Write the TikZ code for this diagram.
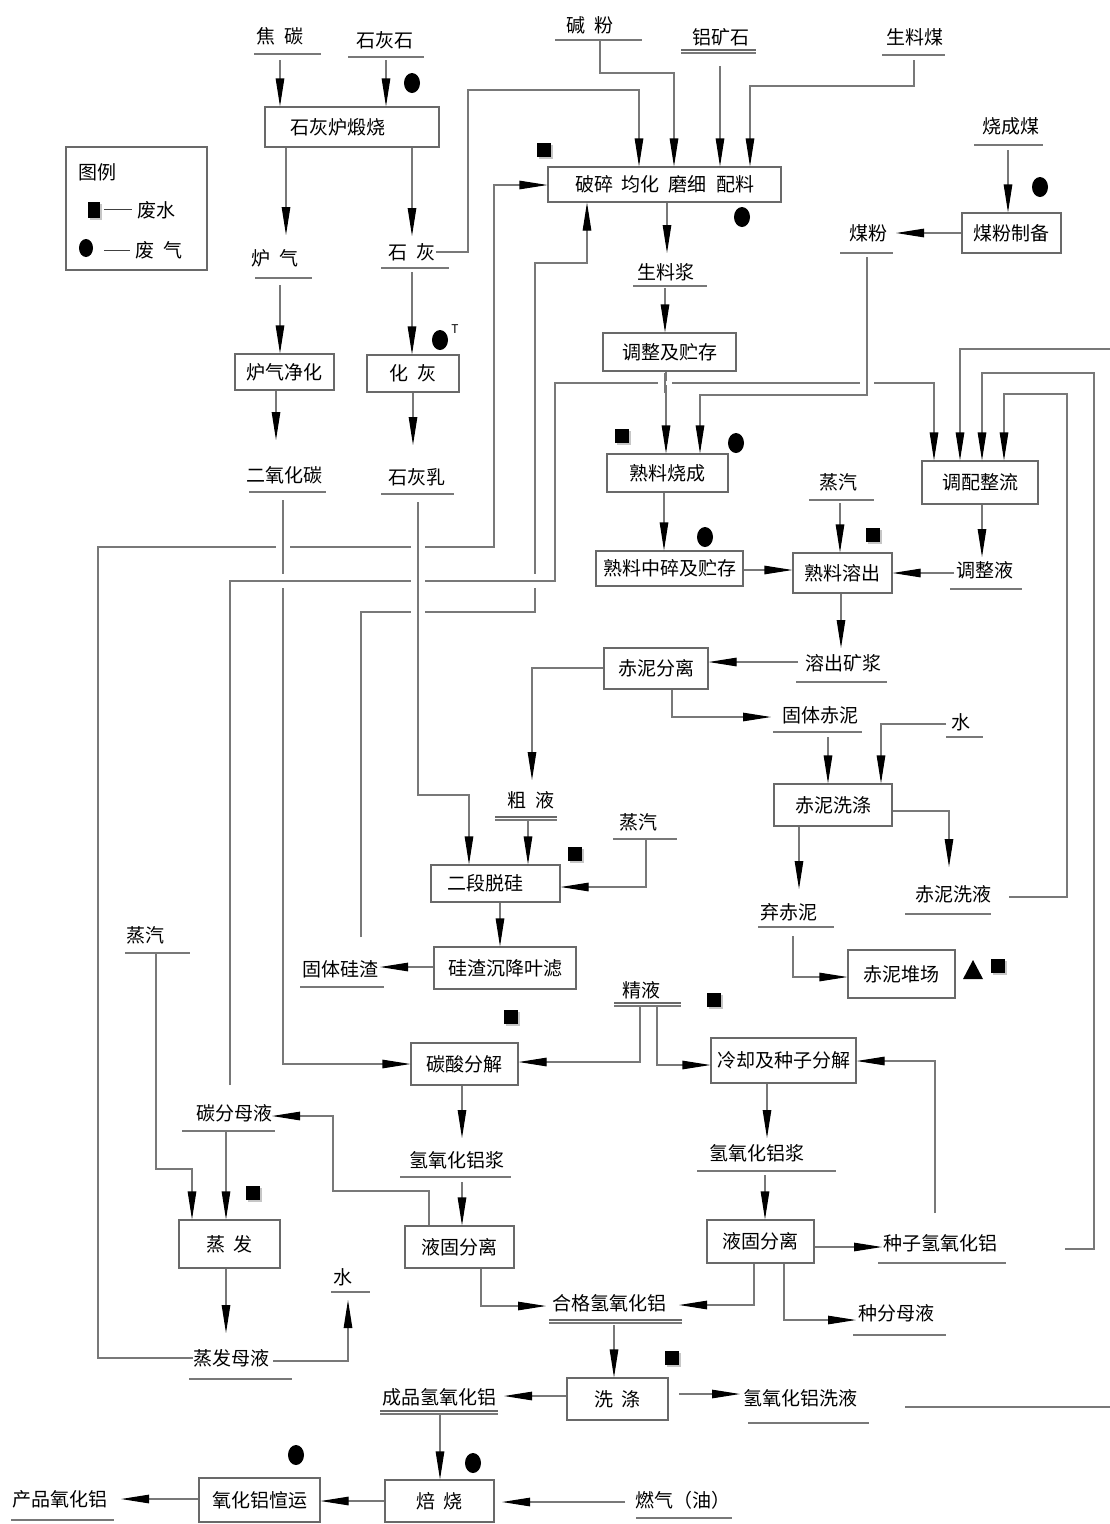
\documentclass[tikz,border=0pt]{standalone}
\usepackage{fontspec}
\setmainfont{Noto Sans CJK SC}
\usetikzlibrary{arrows.meta}

\definecolor{lgray}{RGB}{120,120,120}
\definecolor{bgray}{RGB}{105,105,105}
\newcommand\zh{\fontsize{19pt}{19pt}\selectfont}
\newcommand\gsp{\hspace{9pt}}

\tikzset{
  ln/.style={draw=lgray, line width=1.1pt},
  arr/.style={ln, -{Triangle[length=28pt,width=8.5pt,color=black]}},
  pbox/.style={draw=bgray, line width=1.1pt, inner sep=0pt, font=\zh},
  lab/.style={inner sep=0pt, font=\zh},
  ulbar/.style={draw=lgray, line width=1.1pt},
}

% underline under a material label
\newcommand\ulab[3]{\draw[ulbar] (#1,#3) -- (#2,#3);}
% double underline under a main product label
\newcommand\dulab[3]{\draw[draw=bgray, line width=1.5pt] (#1,#3) -- (#2,#3);
  \draw[ulbar] (#1,#3+3) -- (#2,#3+3);}
% waste-water marker
\newcommand\wastesq[2]{\begin{scope}[shift={(#1,#2)}]
  \fill[gray!45] (-5,-5) rectangle (9,9);
  \fill[black] (-7,-7) rectangle (7,7);\end{scope}}
% waste-gas marker
\newcommand\gasdot[2]{\fill[black] (#1,#2) ellipse [x radius=8pt, y radius=10pt];}
% crossing where the horizontal line is interrupted
\newcommand\hbrk[2]{\draw[white, line width=4pt] (#1-7,#2) -- (#1+7,#2);
  \draw[ln] (#1,#2-10) -- (#1,#2+10);}
% crossing where the vertical line is interrupted
\newcommand\vbrk[2]{\draw[white, line width=4pt] (#1,#2-7) -- (#1,#2+7);
  \draw[ln] (#1-10,#2) -- (#1+10,#2);}

\begin{document}
\begin{tikzpicture}[x=1pt,y=-1pt]
\useasboundingbox (0,0) rectangle (1110,1524);
\fill[white] (0,0) rectangle (1110,1524);

% ---------- legend ----------
\node[pbox, minimum width=141pt, minimum height=123pt] (legend) at (136.5,208.5) {};
\node[lab] (lgt) at (97,172) {图例};
\fill[gray!45] (90,204) rectangle (102,220);
\fill[black] (88,202) rectangle (100,218);
\draw[black!75, line width=1pt] (104,209) -- (132,209);
\node[lab] (lgw) at (156,210) {废水};
\fill[black] (86,248) ellipse [x radius=7pt, y radius=9pt];
\draw[black!75, line width=1pt] (104,250) -- (130,250);
\node[lab] (lgg) at (159,250) {废\gsp 气};

% ---------- material labels ----------
\node[lab] (jt) at (280,36) {焦\gsp 碳}; \ulab{254}{321}{54}
\node[lab] (shs) at (385,40) {石灰石}; \ulab{348}{424}{57}
\node[lab] (jf) at (590,25) {碱\gsp 粉}; \ulab{555}{642}{40}
\node[lab] (lks) at (721,37) {铝矿石}; \dulab{681}{756}{50}
\node[lab] (slm) at (915,37) {生料煤}; \ulab{882}{945}{55}
\node[lab] (scm) at (1011,126) {烧成煤}; \ulab{974}{1043}{145}
\node[lab] (mf) at (868,233) {煤粉}; \ulab{840}{893}{253}
\node[lab] (lq) at (275,258) {炉\gsp 气}; \ulab{255}{312}{278}
\node[lab] (sh) at (412,252) {石\gsp 灰}; \ulab{381}{449}{268}
\node[lab] (slj) at (666,272) {生料浆}; \ulab{633}{707}{286}
\node[lab] (co2) at (284,475) {二氧化碳}; \ulab{249}{326}{492}
\node[lab] (shr) at (417,477) {石灰乳}; \ulab{381}{454}{494}
\node[lab] (zq1) at (838,482) {蒸汽}; \ulab{809}{874}{500}
\node[lab] (tzy) at (985,570) {调整液}; \ulab{950}{1022}{589}
\node[lab] (rckj) at (843,663) {溶出矿浆}; \ulab{796}{887}{682}
\node[lab] (gtcn) at (820,715) {固体赤泥}; \ulab{773}{862}{732}
\node[lab] (w1) at (961,722) {水}; \ulab{946}{983}{737}
\node[lab] (cy) at (531,800) {粗\gsp 液}; \dulab{495}{557}{817}
\node[lab] (zq2) at (638,822) {蒸汽}; \ulab{613}{677}{839}
\node[lab] (cnxy) at (953,894) {赤泥洗液}; \ulab{905}{991}{914}
\node[lab] (qcn) at (789,912) {弃赤泥}; \ulab{758}{834}{927}
\node[lab] (zq3) at (145,935) {蒸汽}; \ulab{125}{190}{953}
\node[lab] (gtgz) at (340,969) {固体硅渣}; \ulab{300}{384}{987}
\node[lab] (jy) at (641,990) {精液}; \dulab{614}{681}{1003}
\node[lab] (tfmy) at (234,1113) {碳分母液}; \ulab{182}{275}{1131}
\node[lab] (qyj1) at (457,1160) {氢氧化铝浆}; \ulab{400}{511}{1177}
\node[lab] (qyj2) at (757,1153) {氢氧化铝浆}; \ulab{697}{836}{1171}
\node[lab] (zzq) at (940,1243) {种子氢氧化铝}; \ulab{878}{1006}{1263}
\node[lab] (w2) at (343,1277) {水}; \ulab{331}{370}{1292}
\node[lab] (hg) at (609,1303) {合格氢氧化铝}; \dulab{549}{682}{1320}
\node[lab] (zfml) at (896,1313) {种分母液}; \ulab{853}{946}{1335}
\node[lab] (zfmy) at (231,1358) {蒸发母液}; \ulab{189}{292}{1379}
\node[lab] (cp) at (439,1397) {成品氢氧化铝}; \dulab{380}{498}{1411}
\node[lab] (xy) at (800,1398) {氢氧化铝洗液}; \ulab{748}{869}{1423}
\node[lab] (cpyh) at (60,1499) {产品氧化铝}; \ulab{11}{114}{1520}
\node[lab] (rq) at (683,1500) {燃气（油）}; \ulab{636}{732}{1518}

% ---------- process boxes ----------
\node[pbox, minimum width=174pt, minimum height=40pt] (slhs) at (352,127) {\hspace*{-28pt}石灰炉煅烧};
\node[pbox, minimum width=233pt, minimum height=35pt] (psj) at (664.5,184.5) {破碎\gsp 均化\gsp 磨细\gsp 配料};
\node[pbox, minimum width=99pt, minimum height=40pt] (mfzb) at (1011.5,233) {煤粉制备};
\node[pbox, minimum width=99pt, minimum height=36pt] (lqjh) at (284.5,372) {炉气净化};
\node[pbox, minimum width=92pt, minimum height=37pt] (hh) at (413,373.5) {化\gsp 灰};
\node[pbox, minimum width=133pt, minimum height=38pt] (tzcc) at (669.5,352) {调整及贮存};
\node[pbox, minimum width=121pt, minimum height=38pt] (slsc) at (667.5,473) {熟料烧成};
\node[pbox, minimum width=116pt, minimum height=43pt] (tpzl) at (980,482.5) {调配整流};
\node[pbox, minimum width=147pt, minimum height=35pt] (slzs) at (669.5,568.5) {熟料中碎及贮存};
\node[pbox, minimum width=99pt, minimum height=40pt] (slrc) at (842.5,573) {熟料溶出};
\node[pbox, minimum width=104pt, minimum height=41pt] (cnfl) at (656,668.5) {赤泥分离};
\node[pbox, minimum width=118pt, minimum height=42pt] (cnxd) at (833,805) {赤泥洗涤};
\node[pbox, minimum width=129pt, minimum height=37pt] (edtg) at (495.5,883.5) {\hspace*{-20pt}二段脱硅};
\node[pbox, minimum width=142pt, minimum height=42pt] (gzcj) at (505,968) {硅渣沉降叶滤};
\node[pbox, minimum width=107pt, minimum height=48pt] (cndc) at (901.5,974) {赤泥堆场};
\node[pbox, minimum width=107pt, minimum height=42pt] (tsfj) at (464.5,1064) {碳酸分解};
\node[pbox, minimum width=145pt, minimum height=45pt] (lqfj) at (783.5,1060.5) {冷却及种子分解};
\node[pbox, minimum width=101pt, minimum height=48pt] (zf) at (229.5,1244) {蒸\gsp 发};
\node[pbox, minimum width=109pt, minimum height=42pt] (ygl) at (459.5,1247) {液固分离};
\node[pbox, minimum width=107pt, minimum height=43pt] (ygr) at (760.5,1241.5) {液固分离};
\node[pbox, minimum width=101pt, minimum height=42pt] (xd) at (617.5,1399) {洗\gsp 涤};
\node[pbox, minimum width=109pt, minimum height=42pt] (bs) at (439.5,1501) {焙\gsp 烧};
\node[pbox, minimum width=121pt, minimum height=44pt] (yhly) at (259.5,1500) {氧化铝愃运};

% ---------- flows: lime kiln and raw meal ----------
\draw[arr] (280,60) -- (280,0 |- slhs.north);
\draw[arr] (386,60) -- (386,0 |- slhs.north);
\draw[arr] (286,0 |- slhs.south) -- (286,235);
\draw[arr] (412,0 |- slhs.south) -- (412,236);
\draw[arr] (sh.east) -| (468,90) -| (639,0 |- psj.north);
\draw[arr] (600,40) |- (674,73) -- (674,0 |- psj.north);
\draw[arr] (720,66) -- (720,0 |- psj.north);
\draw[arr] (914,60) |- (750,86) -- (750,0 |- psj.north);
\draw[arr] (667,0 |- psj.south) -- (667,253);
\draw[arr] (1008,150) -- (1008,0 |- mfzb.north);
\draw[arr] (mfzb.west) -- (896,233);
\draw[arr] (280,285) -- (280,0 |- lqjh.north);
\draw[arr] (276,0 |- lqjh.south) -- (276,440);
\draw[arr] (412,272) -- (412,0 |- hh.north);
\draw[arr] (413,0 |- hh.south) -- (413,445);

% ---------- sintering and leaching ----------
\draw[arr] (665,288) -- (665,0 |- tzcc.north);
\draw[arr] (666,0 |- tzcc.south) -- (666,0 |- slsc.north);
\draw[arr] (867,257) |- (700,395) -- (700,0 |- slsc.north);
\draw[arr] (664,0 |- slsc.south) -- (664,0 |- slzs.north);
\draw[arr] (slzs.east |- 0,570) -- (slrc.west |- 0,570);
\draw[arr] (840,503) -- (840,0 |- slrc.north);
\draw[arr] (982,0 |- tpzl.south) -- (982,557);
\draw[arr] (954,573) -- (slrc.east |- 0,573);
\draw[arr] (841,0 |- slrc.south) -- (841,648);
\draw[arr] (798,662) -- (cnfl.east |- 0,662);
\draw[arr] (cnfl.west |- 0,668) -| (532,780);
\draw[arr] (672,0 |- cnfl.south) |- (771,717);
\draw[arr] (828,737) -- (828,0 |- cnxd.north);
\draw[arr] (946,724) -| (881,0 |- cnxd.north);
\draw[arr] (cnxd.east |- 0,811) -| (949,867);
\draw[arr] (799,0 |- cnxd.south) -- (799,889);
\draw[arr] (793,936) |- (cndc.west |- 0,977);

% ---------- return liquors to blending ----------
\draw[arr] (1009,897) -| (1067,394) -| (1004,0 |- tpzl.north);
\draw[arr] (1065,1249) -| (1094,373) -| (982,0 |- tpzl.north);
\draw[arr] (1110,349) -| (960,0 |- tpzl.north);
\draw[arr] (230,1085) |- (555,581) |- (934,383) -- (934,0 |- tpzl.north);
\draw[arr] (zfmy.west) -| (98,547) -| (494,185) -- (psj.west |- 0,185);
\draw[arr] (361,937) |- (535,612) |- (587,263) -- (587,0 |- psj.south);

% ---------- desilication and decomposition ----------
\draw[arr] (283,500) |- (tsfj.west |- 0,1064);
\draw[arr] (418,502) |- (469,795) -- (469,0 |- edtg.north);
\draw[arr] (528,820) -- (528,0 |- edtg.north);
\draw[arr] (646,839) |- (edtg.east |- 0,887);
\draw[arr] (500,0 |- edtg.south) -- (500,0 |- gzcj.north);
\draw[arr] (gzcj.west |- 0,967) -- (380,967);
\draw[arr] (640,1006) |- (tsfj.east |- 0,1062);
\draw[arr] (657,1006) |- (lqfj.west |- 0,1065);
\draw[arr] (935,1213) |- (lqfj.east |- 0,1061);
\draw[arr] (767,0 |- lqfj.south) -- (767,1138);
\draw[arr] (765,1175) -- (765,0 |- ygr.north);
\draw[arr] (ygr.east |- 0,1247) -- (882,1247);
\draw[arr] (754,0 |- ygr.south) |- (679,1305);
\draw[arr] (784,0 |- ygr.south) |- (856,1320);
\draw[arr] (462,0 |- tsfj.south) -- (462,1138);
\draw[arr] (462,1182) -- (462,0 |- ygl.north);
\draw[arr] (429,0 |- ygl.north) |- (333,1191) |- (272,1116);

% ---------- evaporation ----------
\draw[arr] (156,953) |- (192,1169) -- (192,0 |- zf.north);
\draw[arr] (226,1131) -- (226,0 |- zf.north);
\draw[arr] (226,0 |- zf.south) -- (226,1333);
\draw[arr] (273,1361) -| (348,1300);

% ---------- washing and calcination ----------
\draw[arr] (481,0 |- ygl.south) |- (546,1306);
\draw[arr] (614,1325) -- (614,0 |- xd.north);
\draw[arr] (679,1394) -- (740,1394);
\draw[arr] (xd.west |- 0,1396) -- (504,1396);
\draw[arr] (440,1415) -- (440,0 |- bs.north);
\draw[arr] (625,1502) -- (502,1502);
\draw[arr] (bs.west |- 0,1501) -- (yhly.east |- 0,1501);
\draw[arr] (yhly.west |- 0,1499) -- (121,1499);
\draw[ln] (905,1407) -- (1110,1407);

% ---------- line crossings ----------
\hbrk{283}{547}
\hbrk{418}{547}
\vbrk{283}{581}
\hbrk{418}{581}
\vbrk{535}{581}
\hbrk{418}{612}
\hbrk{665}{383}
\hbrk{867}{383}

% ---------- waste markers ----------
\wastesq{544}{150}
\wastesq{622}{436}
\wastesq{873}{535}
\wastesq{575}{854}
\wastesq{714}{1000}
\wastesq{511}{1017}
\wastesq{253}{1193}
\wastesq{672}{1358}
\wastesq{998}{966}
\fill[black] (963,979) -- (983,979) -- (973,960) -- cycle;

\gasdot{412}{83}
\gasdot{742}{217}
\gasdot{1040}{187}
\gasdot{440}{340}
\node[inner sep=0pt, font=\fontsize{12pt}{12pt}\selectfont] (tmark) at (455,329) {T};
\gasdot{736}{443}
\gasdot{705}{537}
\gasdot{296}{1455}
\gasdot{473}{1463}
\end{tikzpicture}
\end{document}
